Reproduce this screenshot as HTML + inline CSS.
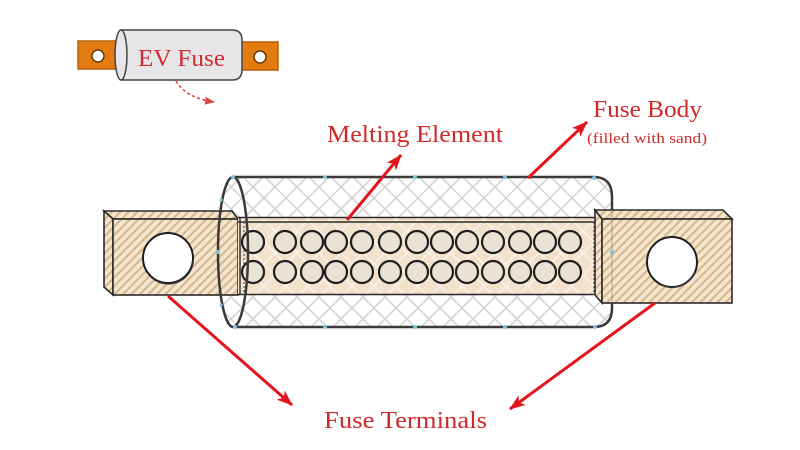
<!DOCTYPE html>
<html><head><meta charset="utf-8"><style>
html,body{margin:0;padding:0;background:#fff;}
svg{display:block;}
text{font-family:"Liberation Serif",serif;}
</style></head><body>
<svg width="800" height="450" viewBox="0 0 800 450" xmlns="http://www.w3.org/2000/svg">
<defs>
  <pattern id="cross" patternUnits="userSpaceOnUse" width="22" height="22">
    <path d="M0,0 L22,22 M22,0 L0,22" stroke="#d4d4d4" stroke-width="1.6" fill="none"/>
  </pattern>
  <pattern id="cross2" patternUnits="userSpaceOnUse" width="22" height="22">
    <path d="M0,0 L22,22 M22,0 L0,22" stroke="#fbf1e6" stroke-width="1.6" fill="none"/>
  </pattern>
  <pattern id="hatch" patternUnits="userSpaceOnUse" width="6" height="6" patternTransform="rotate(45)">
    <rect width="6" height="6" fill="#f4e5d0"/>
    <line x1="1" y1="0" x2="1" y2="6" stroke="#d6b688" stroke-width="2"/>
  </pattern>
  <marker id="ah" markerUnits="userSpaceOnUse" viewBox="0 0 16 12" refX="15" refY="6" markerWidth="16" markerHeight="12" orient="auto">
    <path d="M0,0 L16,6 L0,12 L4,6 Z" fill="#e3141b"/>
  </marker>
  <marker id="ah2" markerUnits="userSpaceOnUse" viewBox="0 0 10 8" refX="9" refY="4" markerWidth="10" markerHeight="8" orient="auto">
    <path d="M0,0 L10,4 L0,8 Z" fill="#e04848"/>
  </marker>
</defs>

<rect width="800" height="450" fill="#fff"/>

<!-- Small EV fuse icon -->
<rect x="78" y="41" width="46" height="28" fill="#e27c12" stroke="#b8600c" stroke-width="1.5"/>
<circle cx="98" cy="56" r="6" fill="#fff" stroke="#6b3a08" stroke-width="1.5"/>
<rect x="236" y="42" width="42" height="28" fill="#e27c12" stroke="#b8600c" stroke-width="1.5"/>
<circle cx="260" cy="57" r="6" fill="#fff" stroke="#6b3a08" stroke-width="1.5"/>
<path d="M121,30 L232,30 Q242,30 242,40 L242,70 Q242,80 232,80 L121,80 Z" fill="#e6e6e8" stroke="#444" stroke-width="1.5"/>
<ellipse cx="121" cy="55" rx="6" ry="25" fill="#e6e6e8" stroke="#444" stroke-width="1.5"/>
<text x="138" y="66" font-size="24" fill="#d42a35" textLength="87" lengthAdjust="spacingAndGlyphs">EV Fuse</text>
<path d="M176,81 Q186,98 214,102" fill="none" stroke="#e04848" stroke-width="1.6" stroke-dasharray="3,2.5" marker-end="url(#ah2)"/>

<!-- Cylinder body -->
<path d="M233,177 L594,177 Q612,177 612,197 L612,308 Q612,327 594,327 L233,327 A15,75 0 0 1 233,177 Z" fill="#fff"/>
<path d="M233,177 L594,177 Q612,177 612,197 L612,308 Q612,327 594,327 L233,327 A15,75 0 0 1 233,177 Z" fill="url(#cross)"/>
<path d="M233,177 L594,177 Q612,177 612,197 L612,308 Q612,327 594,327 L233,327" fill="none" stroke="#3a3a3a" stroke-width="2.5"/>

<!-- Left terminal -->
<polygon points="104,211 232,211 238,219 113,219" fill="url(#hatch)" stroke="#2a2a2a" stroke-width="1.6"/>
<polygon points="104,211 113,219 113,295 104,287" fill="url(#hatch)" stroke="#2a2a2a" stroke-width="1.6"/>
<rect x="113" y="219" width="125" height="76" fill="url(#hatch)" stroke="#2a2a2a" stroke-width="1.6"/>
<circle cx="168" cy="258" r="25" fill="#fff" stroke="#1e1e1e" stroke-width="2"/>
<path d="M150,276 A25,25 0 0 0 193,263" fill="none" stroke="#333" stroke-width="1.3"/>

<!-- Melting element strip -->
<rect x="238" y="217" width="362" height="78" fill="#f2e1cb"/>
<rect x="238" y="217" width="362" height="78" fill="url(#cross2)"/>
<line x1="238" y1="217.5" x2="600" y2="217.5" stroke="#2a2a2a" stroke-width="1.5"/>
<line x1="238" y1="222" x2="600" y2="222" stroke="#2a2a2a" stroke-width="1.5"/>
<line x1="238" y1="294.5" x2="600" y2="294.5" stroke="#2a2a2a" stroke-width="1.6"/>
<line x1="240" y1="217" x2="240" y2="295" stroke="#2a2a2a" stroke-width="1.4"/>
<line x1="244" y1="222" x2="244" y2="295" stroke="#555" stroke-width="1.2" stroke-dasharray="2,2"/>
<line x1="594" y1="222" x2="594" y2="295" stroke="#555" stroke-width="1.2" stroke-dasharray="2,2"/>
<g fill="#ebe2d6" stroke="#1e1e1e" stroke-width="2.2">
  <circle cx="253" cy="242" r="11"/><circle cx="285" cy="242" r="11"/><circle cx="312" cy="242" r="11"/>
  <circle cx="336" cy="242" r="11"/><circle cx="362" cy="242" r="11"/><circle cx="390" cy="242" r="11"/>
  <circle cx="417" cy="242" r="11"/><circle cx="442" cy="242" r="11"/><circle cx="467" cy="242" r="11"/>
  <circle cx="493" cy="242" r="11"/><circle cx="520" cy="242" r="11"/><circle cx="545" cy="242" r="11"/>
  <circle cx="570" cy="242" r="11"/>
  <circle cx="253" cy="272" r="11"/><circle cx="285" cy="272" r="11"/><circle cx="312" cy="272" r="11"/>
  <circle cx="336" cy="272" r="11"/><circle cx="362" cy="272" r="11"/><circle cx="390" cy="272" r="11"/>
  <circle cx="417" cy="272" r="11"/><circle cx="442" cy="272" r="11"/><circle cx="467" cy="272" r="11"/>
  <circle cx="493" cy="272" r="11"/><circle cx="520" cy="272" r="11"/><circle cx="545" cy="272" r="11"/>
  <circle cx="570" cy="272" r="11"/>
</g>

<!-- Right terminal -->
<polygon points="595,210 723,210 732,219 602,219" fill="url(#hatch)" stroke="#2a2a2a" stroke-width="1.6"/>
<polygon points="595,210 602,219 602,303 595,295" fill="url(#hatch)" stroke="#2a2a2a" stroke-width="1.6"/>
<rect x="602" y="219" width="130" height="84" fill="url(#hatch)" stroke="#2a2a2a" stroke-width="1.6"/>
<circle cx="672" cy="262" r="25" fill="#fff" stroke="#1e1e1e" stroke-width="2"/>
<path d="M662,285 A25,25 0 0 0 695,272" fill="none" stroke="#333" stroke-width="1.3"/>
<path d="M612,210 L612,303" stroke="#8a7a68" stroke-width="1" opacity="0.6"/>

<!-- Left front ellipse over terminal -->
<ellipse cx="233" cy="252" rx="15" ry="75" fill="none" stroke="#3a3a3a" stroke-width="2.5"/>

<!-- blue handle dots -->
<g fill="#7cc3df">
  <circle cx="233" cy="177" r="2"/><circle cx="325" cy="177" r="2"/><circle cx="415" cy="177" r="2"/>
  <circle cx="505" cy="177" r="2"/><circle cx="594" cy="178" r="2"/>
  <circle cx="235" cy="327" r="2"/><circle cx="325" cy="327" r="2"/><circle cx="415" cy="327" r="2"/>
  <circle cx="505" cy="327" r="2"/><circle cx="595" cy="327" r="2"/>
  <circle cx="218" cy="252" r="2"/><circle cx="612" cy="252" r="2"/>
  <circle cx="221" cy="200" r="1.6"/><circle cx="221" cy="305" r="1.6"/>
</g>

<!-- Arrows -->
<g stroke="#e3141b" stroke-width="3" fill="none">
  <line x1="347" y1="220" x2="401" y2="155" marker-end="url(#ah)"/>
  <line x1="528" y1="178" x2="587" y2="122" marker-end="url(#ah)"/>
  <line x1="168" y1="296" x2="292" y2="405" marker-end="url(#ah)"/>
  <line x1="655" y1="303" x2="510" y2="409" marker-end="url(#ah)"/>
</g>

<!-- Labels -->
<text x="327" y="142" font-size="24" fill="#cf2a2a" textLength="176" lengthAdjust="spacingAndGlyphs">Melting Element</text>
<text x="593" y="117" font-size="24" fill="#cf2a2a" textLength="109" lengthAdjust="spacingAndGlyphs">Fuse Body</text>
<text x="587" y="143" font-size="15" fill="#cf2a2a" textLength="120" lengthAdjust="spacingAndGlyphs">(filled with sand)</text>
<text x="324" y="428" font-size="24" fill="#cf2a2a" textLength="163" lengthAdjust="spacingAndGlyphs">Fuse Terminals</text>
</svg>
</body></html>
